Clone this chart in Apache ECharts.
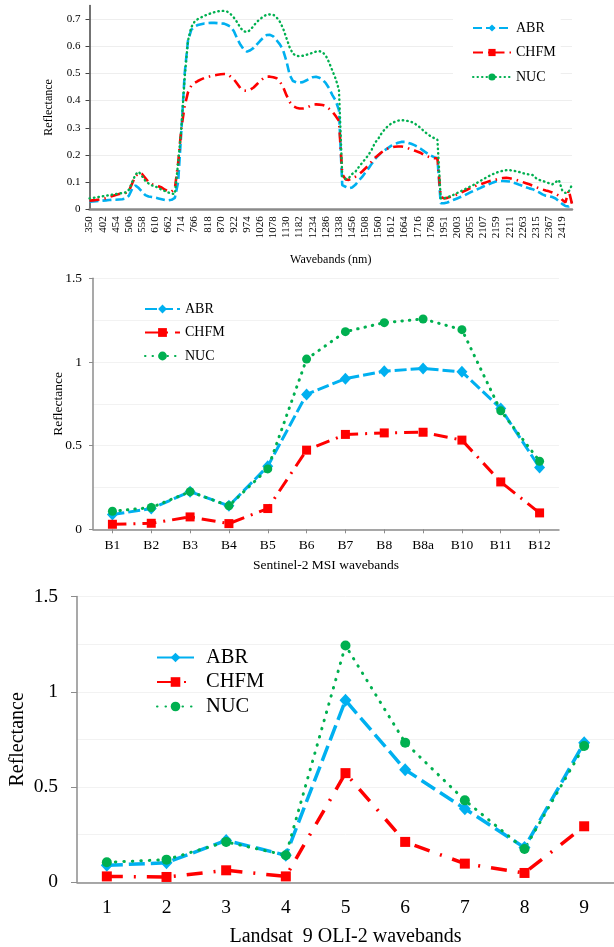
<!DOCTYPE html>
<html>
<head>
<meta charset="utf-8">
<script src="https://cdn.jsdelivr.net/npm/echarts@6/dist/echarts.min.js"></script>
<style>
html,body{margin:0;padding:0;background:#fff;width:614px;height:947px;overflow:hidden;}
.c{position:absolute;left:0;width:614px;}
</style>
</head>
<body>
<div id="c1" class="c" style="top:0;height:270px;"></div>
<div id="c2" class="c" style="top:265px;height:310px;"></div>
<div id="c3" class="c" style="top:575px;height:372px;"></div>
<script>
// ---------- Panel 1: field spectra ----------
const wavelengths = [
350,363,376,389,402,415,428,441,454,467,
480,493,506,519,532,545,558,571,584,597,
610,623,636,649,662,675,688,701,714,727,
740,753,766,779,792,805,818,831,844,857,
870,883,896,909,922,935,948,961,974,987,
1000,1013,1026,1039,1052,1065,1078,1091,1104,1117,
1130,1143,1156,1169,1182,1195,1208,1221,1234,1247,
1260,1273,1286,1299,1312,1325,1338,
1417,1430,1443,
1456,1469,1482,1495,1508,1521,1534,1547,1560,1573,1586,1599,1612,1625,1638,1651,1664,1677,1690,1703,1716,1729,1742,1755,1768,
1781,1794,1938,
1951,1964,1977,1990,2003,2016,2029,2042,2055,2068,2081,2094,2107,2120,2133,2146,2159,2172,2185,2198,
2211,2224,2237,2250,2263,2276,2289,2302,2315,2328,2341,2354,2367,2380,2393,2406,2419,2432,2445,2458
];
const abrSpectrum = [
0.028,0.029,0.030,0.031,0.032,0.033,0.034,0.035,0.035,0.036,
0.037,0.040,0.050,0.075,0.088,0.078,0.065,0.052,0.047,0.045,
0.043,0.040,0.037,0.034,0.033,0.035,0.042,0.100,0.290,0.500,
0.620,0.660,0.672,0.678,0.681,0.684,0.685,0.686,0.686,0.685,
0.684,0.683,0.678,0.672,0.655,0.628,0.605,0.588,0.580,0.585,
0.594,0.607,0.620,0.632,0.641,0.642,0.636,0.622,0.607,0.585,
0.545,0.494,0.472,0.467,0.466,0.468,0.474,0.480,0.486,0.488,
0.484,0.477,0.464,0.445,0.420,0.400,0.365,0.089,0.083,0.077,
0.080,0.090,0.105,0.118,0.135,0.150,0.168,0.185,0.198,0.210,
0.218,0.226,0.234,0.240,0.245,0.248,0.248,0.245,0.241,0.236,
0.230,0.222,0.213,0.205,0.198,0.192,0.188,0.022,0.022,0.025,
0.030,0.035,0.040,0.045,0.050,0.056,0.062,0.068,0.073,0.078,
0.084,0.089,0.094,0.099,0.103,0.104,0.104,0.103,0.102,0.099,
0.095,0.090,0.086,0.081,0.077,0.074,0.068,0.062,0.055,0.050,
0.048,0.045,0.040,0.030,0.020,0.012,0.010,0.030
];
const chfmSpectrum = [
0.032,0.033,0.034,0.036,0.038,0.041,0.045,0.049,0.053,0.056,
0.058,0.060,0.068,0.095,0.122,0.134,0.130,0.115,0.100,0.092,
0.088,0.085,0.080,0.072,0.066,0.065,0.075,0.170,0.300,0.380,
0.430,0.455,0.465,0.472,0.478,0.483,0.487,0.490,0.493,0.495,
0.497,0.498,0.497,0.488,0.478,0.462,0.445,0.437,0.436,0.440,
0.448,0.460,0.472,0.482,0.488,0.488,0.486,0.482,0.470,0.450,
0.420,0.395,0.380,0.374,0.371,0.371,0.374,0.379,0.385,0.386,
0.385,0.384,0.380,0.370,0.360,0.343,0.325,0.130,0.110,0.108,
0.115,0.120,0.128,0.138,0.150,0.163,0.176,0.190,0.200,0.210,
0.218,0.224,0.228,0.230,0.231,0.231,0.229,0.225,0.220,0.216,
0.212,0.207,0.200,0.195,0.190,0.188,0.188,0.046,0.040,0.042,
0.046,0.050,0.055,0.060,0.066,0.072,0.078,0.083,0.088,0.092,
0.096,0.100,0.104,0.107,0.110,0.113,0.115,0.116,0.114,0.111,
0.108,0.104,0.100,0.096,0.092,0.087,0.082,0.077,0.073,0.069,
0.066,0.062,0.057,0.050,0.035,0.025,0.070,0.020
];
const nucSpectrum = [
0.040,0.042,0.044,0.046,0.048,0.050,0.052,0.054,0.056,0.058,
0.060,0.062,0.072,0.100,0.128,0.138,0.122,0.105,0.095,0.088,
0.084,0.079,0.072,0.067,0.062,0.058,0.056,0.170,0.300,0.485,
0.620,0.670,0.690,0.700,0.706,0.712,0.717,0.721,0.725,0.728,
0.730,0.730,0.727,0.718,0.705,0.688,0.667,0.655,0.652,0.660,
0.675,0.690,0.700,0.710,0.716,0.717,0.716,0.706,0.690,0.665,
0.630,0.595,0.572,0.565,0.563,0.565,0.568,0.572,0.576,0.580,
0.582,0.578,0.565,0.540,0.510,0.480,0.440,0.120,0.112,0.115,
0.130,0.138,0.155,0.170,0.185,0.200,0.220,0.245,0.260,0.280,
0.295,0.307,0.316,0.322,0.326,0.328,0.327,0.325,0.322,0.316,
0.308,0.298,0.286,0.277,0.268,0.262,0.256,0.040,0.040,0.045,
0.048,0.054,0.060,0.066,0.072,0.078,0.084,0.090,0.097,0.104,
0.111,0.118,0.124,0.130,0.135,0.139,0.142,0.144,0.144,0.142,
0.140,0.137,0.133,0.130,0.128,0.126,0.115,0.108,0.105,0.100,
0.096,0.092,0.100,0.108,0.070,0.060,0.065,0.090
];

// ---------- Panel 2: Sentinel-2 MSI ----------
const s2Bands = ['B1','B2','B3','B4','B5','B6','B7','B8','B8a','B10','B11','B12'];
const s2ABR  = [0.088,0.124,0.225,0.140,0.377,0.806,0.900,0.945,0.961,0.941,0.722,0.369];
const s2CHFM = [0.030,0.036,0.074,0.034,0.124,0.473,0.567,0.576,0.580,0.533,0.283,0.098];
const s2NUC  = [0.108,0.130,0.225,0.140,0.361,1.017,1.181,1.235,1.257,1.193,0.708,0.407];

// ---------- Panel 3: Landsat 9 OLI-2 ----------
const l9Bands = ['1','2','3','4','5','6','7','8','9'];
const l9ABR  = [0.089,0.103,0.220,0.142,0.955,0.591,0.386,0.182,0.733];
const l9CHFM = [0.031,0.028,0.063,0.031,0.573,0.212,0.098,0.049,0.294];
const l9NUC  = [0.105,0.119,0.212,0.142,1.243,0.733,0.430,0.175,0.715];

const seriesNames = ['ABR','CHFM','NUC'];
const BLUE = '#00B0F0', RED = '#FF0000', GREEN = '#00B050';
const FONT = '"Liberation Serif", "Times New Roman", serif';

// ===== Chart 1 =====
const ch1 = echarts.init(document.getElementById('c1'), null, {renderer:'canvas'});
ch1.setOption({
  animation:false,
  grid:{left:89.5, right:42, top:5.45, bottom:60.7, outerBoundsMode:'none'},
  legend:{
    orient:'vertical', left:453, top:12, padding:[9,5,9,19],
    backgroundColor:'#fff', itemWidth:38, itemHeight:9, itemGap:10.5,
    data:seriesNames,
    textStyle:{fontFamily:FONT, fontSize:14, color:'#000'}
  },
  xAxis:{
    type:'category', data:wavelengths, boundaryGap:false,
    name:'Wavebands (nm)', nameLocation:'middle', nameGap:45, nameMoveOverlap:false,
    nameTextStyle:{fontFamily:FONT, fontSize:12, color:'#000'},
    axisLine:{lineStyle:{color:'#8a8a8a', width:2.5}},
    axisTick:{show:false},
    axisLabel:{interval:3, rotate:90, margin:7, fontFamily:FONT, fontSize:11, color:'#000'},
    splitLine:{show:false}
  },
  yAxis:{
    type:'value', min:0, max:0.75, interval:0.1,
    name:'Reflectance', nameLocation:'middle', nameGap:35, nameMoveOverlap:false,
    nameTextStyle:{fontFamily:FONT, fontSize:12, color:'#000'},
    axisLine:{show:true, lineStyle:{color:'#444', width:1.5}},
    axisTick:{show:true, length:4, lineStyle:{color:'#444'}},
    axisLabel:{margin:9, fontFamily:FONT, fontSize:11, color:'#000', showMaxLabel:false},
    splitLine:{show:true, showMaxLine:false, lineStyle:{color:'#eeeeee', width:1}}
  },
  series:[
    {name:'ABR', type:'line', data:abrSpectrum, symbol:'diamond', showSymbol:false,
     itemStyle:{color:BLUE}, lineStyle:{color:BLUE, width:2.6, type:[9,4]}},
    {name:'CHFM', type:'line', data:chfmSpectrum, symbol:'rect', showSymbol:false,
     itemStyle:{color:RED}, lineStyle:{color:RED, width:2.6, type:[10,5,1.5,5]}},
    {name:'NUC', type:'line', data:nucSpectrum, symbol:'circle', showSymbol:false,
     itemStyle:{color:GREEN}, lineStyle:{color:GREEN, width:2.4, type:[0.5,4], cap:'round'}}
  ]
});

// ===== Chart 2 =====
const ch2 = echarts.init(document.getElementById('c2'), null, {renderer:'canvas'});
ch2.setOption({
  animation:false,
  grid:{left:93, right:55, top:13.3, bottom:45.7, outerBoundsMode:'none'},
  legend:{
    orient:'vertical', left:144, top:37, padding:0,
    itemWidth:35, itemHeight:11, itemGap:9.5,
    data:seriesNames,
    textStyle:{fontFamily:FONT, fontSize:14, color:'#000'}
  },
  xAxis:{
    type:'category', data:s2Bands, boundaryGap:true,
    name:'Sentinel-2 MSI wavebands', nameLocation:'middle', nameGap:29, nameMoveOverlap:false,
    nameTextStyle:{fontFamily:FONT, fontSize:13.5, color:'#000'},
    axisLine:{lineStyle:{color:'#8c8c8c', width:1.5}},
    axisTick:{show:true, alignWithLabel:true, length:4, lineStyle:{color:'#8c8c8c'}},
    axisLabel:{margin:9, fontFamily:FONT, fontSize:13.5, color:'#000'}
  },
  yAxis:{
    type:'value', min:0, max:1.5, interval:0.5,
    name:'Reflectance', nameLocation:'middle', nameGap:28, nameMoveOverlap:false,
    nameTextStyle:{fontFamily:FONT, fontSize:13.5, color:'#000'},
    axisLine:{show:true, lineStyle:{color:'#8c8c8c', width:1.5}},
    axisTick:{show:true, length:4, lineStyle:{color:'#8c8c8c'}},
    axisLabel:{margin:11, fontFamily:FONT, fontSize:13.5, color:'#000'},
    splitLine:{show:true, lineStyle:{color:'#f2f2f2'}},
    minorTick:{show:false, splitNumber:2},
    minorSplitLine:{show:true, lineStyle:{color:'#f2f2f2'}}
  },
  series:[
    {name:'ABR', type:'line', data:s2ABR, symbol:'diamond', symbolSize:[11,12],
     itemStyle:{color:BLUE}, lineStyle:{color:BLUE, width:3, type:[12,4]}},
    {name:'CHFM', type:'line', data:s2CHFM, symbol:'rect', symbolSize:9,
     itemStyle:{color:RED}, lineStyle:{color:RED, width:3, type:[14,7,2,7]}},
    {name:'NUC', type:'line', data:s2NUC, symbol:'circle', symbolSize:9,
     itemStyle:{color:GREEN}, lineStyle:{color:GREEN, width:3, type:[0.5,7], cap:'round'}}
  ]
});

// ===== Chart 3 =====
const ch3 = echarts.init(document.getElementById('c3'), null, {renderer:'canvas'});
ch3.setOption({
  animation:false,
  grid:{left:77, right:0, top:21.5, bottom:64.7, outerBoundsMode:'none'},
  legend:{
    orient:'vertical', left:156, top:72, padding:0,
    itemWidth:37, itemHeight:12, itemGap:3.5,
    data:seriesNames,
    textStyle:{fontFamily:FONT, fontSize:20.5, color:'#000', padding:[0,0,0,7]}
  },
  xAxis:{
    type:'category', data:l9Bands, boundaryGap:true,
    name:'Landsat  9 OLI-2 wavebands', nameLocation:'middle', nameGap:44, nameMoveOverlap:false,
    nameTextStyle:{fontFamily:FONT, fontSize:20, color:'#000'},
    axisLine:{lineStyle:{color:'#8c8c8c', width:1.5}},
    axisTick:{show:false},
    axisLabel:{margin:16, fontFamily:FONT, fontSize:19.5, color:'#000'}
  },
  yAxis:{
    type:'value', min:0, max:1.5, interval:0.5,
    name:'Reflectance', nameLocation:'middle', nameGap:49, nameMoveOverlap:false,
    nameTextStyle:{fontFamily:FONT, fontSize:20, color:'#000'},
    axisLine:{show:true, lineStyle:{color:'#8c8c8c', width:1.5}},
    axisTick:{show:true, length:6, lineStyle:{color:'#8c8c8c'}},
    axisLabel:{margin:19, fontFamily:FONT, fontSize:19.5, color:'#000'},
    splitLine:{show:true, lineStyle:{color:'#f2f2f2'}},
    minorTick:{show:false, splitNumber:2},
    minorSplitLine:{show:true, lineStyle:{color:'#f2f2f2'}}
  },
  series:[
    {name:'ABR', type:'line', data:l9ABR, symbol:'diamond', symbolSize:[12,13],
     itemStyle:{color:BLUE}, lineStyle:{color:BLUE, width:3.5, type:[16,6]}},
    {name:'CHFM', type:'line', data:l9CHFM, symbol:'rect', symbolSize:10,
     itemStyle:{color:RED}, lineStyle:{color:RED, width:3.5, type:[16,11,2,11]}},
    {name:'NUC', type:'line', data:l9NUC, symbol:'circle', symbolSize:10,
     itemStyle:{color:GREEN}, lineStyle:{color:GREEN, width:3, type:[0.5,8], cap:'round'}}
  ]
});
</script>
</body>
</html>
